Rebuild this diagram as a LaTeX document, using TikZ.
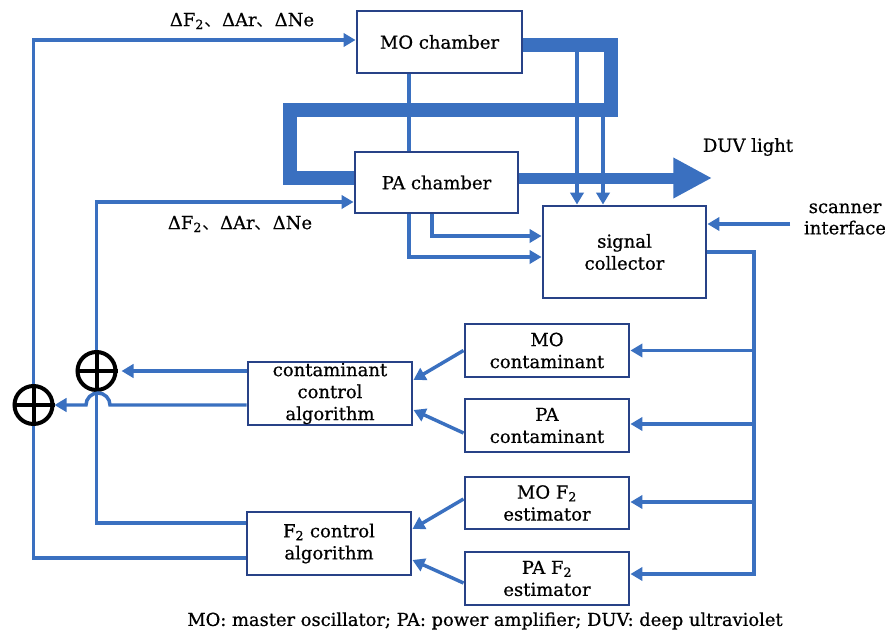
\documentclass[tikz,border=0pt]{standalone}
\usepackage{fontspec}
\setmainfont{DejaVu Serif}[UprightFeatures={FakeBold=0.6}]
\newfontfamily\cjk{Noto Sans CJK SC}
\usetikzlibrary{arrows.meta}
\definecolor{lnc}{RGB}{58,112,192}
\definecolor{bxc}{RGB}{40,66,135}
\begin{document}
\begin{tikzpicture}[x=0.75pt,y=-0.75pt,
  box/.style={draw=bxc,line width=2.2pt,fill=white,inner sep=0pt,align=center,
    font=\fontsize{13.5}{16.5}\selectfont},
  lbl/.style={inner sep=0pt,align=center,font=\fontsize{13.5}{16}\selectfont},
  ln/.style={draw=lnc,line width=2.6pt},
  arr/.style={ln,-{Triangle[length=9pt,width=10pt]}},
  beam/.style={draw=lnc,line width=10pt,line join=miter},
  sumc/.style={circle,draw=black,line width=3pt,minimum size=28.5pt,inner sep=0pt}]
\fill[white] (0,0) rectangle (885,639);
\useasboundingbox (0,0) rectangle (885,639);

% boxes
\node[box,minimum width=123.75pt,minimum height=46.5pt] (mo) at (439.5,42) {MO chamber};
\node[box,minimum width=122.25pt,minimum height=45.75pt] (pa) at (436.5,182.5) {PA chamber};
\node[box,minimum width=122.25pt,minimum height=69pt] (sc) at (624.5,252) {signal\\collector};
\node[box,minimum width=123pt,minimum height=39.75pt] (moc) at (547,350.5) {MO\\contaminant};
\node[box,minimum width=123pt,minimum height=39.75pt] (pac) at (547,425.5) {PA\\contaminant};
\node[box,minimum width=123pt,minimum height=39pt] (mof) at (547,503) {MO F\textsubscript{2}\\estimator};
\node[box,minimum width=123pt,minimum height=39.75pt] (paf) at (547,578.5) {PA F\textsubscript{2}\\estimator};
\node[box,minimum width=123pt,minimum height=47.25pt] (cca) at (330,393.5) {contaminant\\control\\algorithm};
\node[box,minimum width=123pt,minimum height=47.25pt] (f2a) at (329,543.5) {F\textsubscript{2} control\\algorithm};

% summing junctions
\node[sumc] (s2) at (96.5,371) {};
\node[sumc] (s1) at (33.5,405) {};
\draw[line width=3pt] (s2.north) -- (s2.south) (s2.west) -- (s2.east);
\draw[line width=3pt] (s1.north) -- (s1.south) (s1.west) -- (s1.east);

% labels
\node[lbl] (l1) at (242,21) {ΔF\textsubscript{2}{\cjk 、}ΔAr{\cjk 、}ΔNe};
\node[lbl] (l2) at (240,224) {ΔF\textsubscript{2}{\cjk 、}ΔAr{\cjk 、}ΔNe};
\node[lbl] (duv) at (748,147) {DUV light};
\node[lbl] (scan) at (845,219) {scanner\\interface};
\node[inner sep=0pt,font=\fontsize{13.4}{15}\selectfont] (cap) at (485,621)
  {MO: master oscillator; PA: power amplifier; DUV: deep ultraviolet};

% coordinates
\coordinate (duvtip) at (712,178);
\coordinate (scanin) at (790,224);
\coordinate (busb) at (754,574);

% beam
\draw[beam] (mo.east |- 0,45) -- (611,45) -- (611,110) -- (290,110) -- (290,178) -- (pa.west |- 0,178);
\draw[draw=lnc,line width=8.25pt,-{Triangle[length=29pt,width=28.5pt]}] (pa.east |- 0,178) -- (duvtip);

% thin connectors
\draw[ln] (mo.south -| 409,0) -- (pa.north -| 409,0);
\draw[arr] (577,45) -- (sc.north -| 577,0);
\draw[arr] (603,110) -- (sc.north -| 603,0);
\draw[arr] (pa.south -| 432,0) |- (sc.west |- 0,236);
\draw[arr] (pa.south -| 409,0) |- (sc.west |- 0,257);
\draw[arr] (scanin) -- (sc.east |- scanin);
\draw[arr] (sc.east |- 0,252) -| (busb) -- (paf.east |- busb);
\draw[arr] (busb |- moc.east) -- (moc.east);
\draw[arr] (busb |- 0,424) -- (pac.east |- 0,424);
\draw[arr] (busb |- 0,502) -- (mof.east |- 0,502);

\draw[arr] (moc.west) -- (cca.east |- 0,380);
\draw[arr] (pac.west |- 0,433) -- (cca.east |- 0,410);
\draw[arr] (mof.west |- 0,499) -- (f2a.east |- 0,529);
\draw[arr] (paf.west |- 0,583) -- (f2a.east |- 0,560);

\draw[arr,shorten >=3pt] (cca.west |- s2.east) -- (s2.east);
\draw[arr] (cca.west |- 0,405) -- (110,405) arc[start angle=0,end angle=-180,radius=12] -- (s1.east);
\draw[arr] (s2.north) |- (pa.west |- 0,202);
\draw[ln] (s2.south) |- (f2a.west |- 0,523);
\draw[arr] (s1.north) |- (mo.west |- 0,40);
\draw[ln] (s1.south) |- (f2a.west |- 0,558);
\end{tikzpicture}
\end{document}
